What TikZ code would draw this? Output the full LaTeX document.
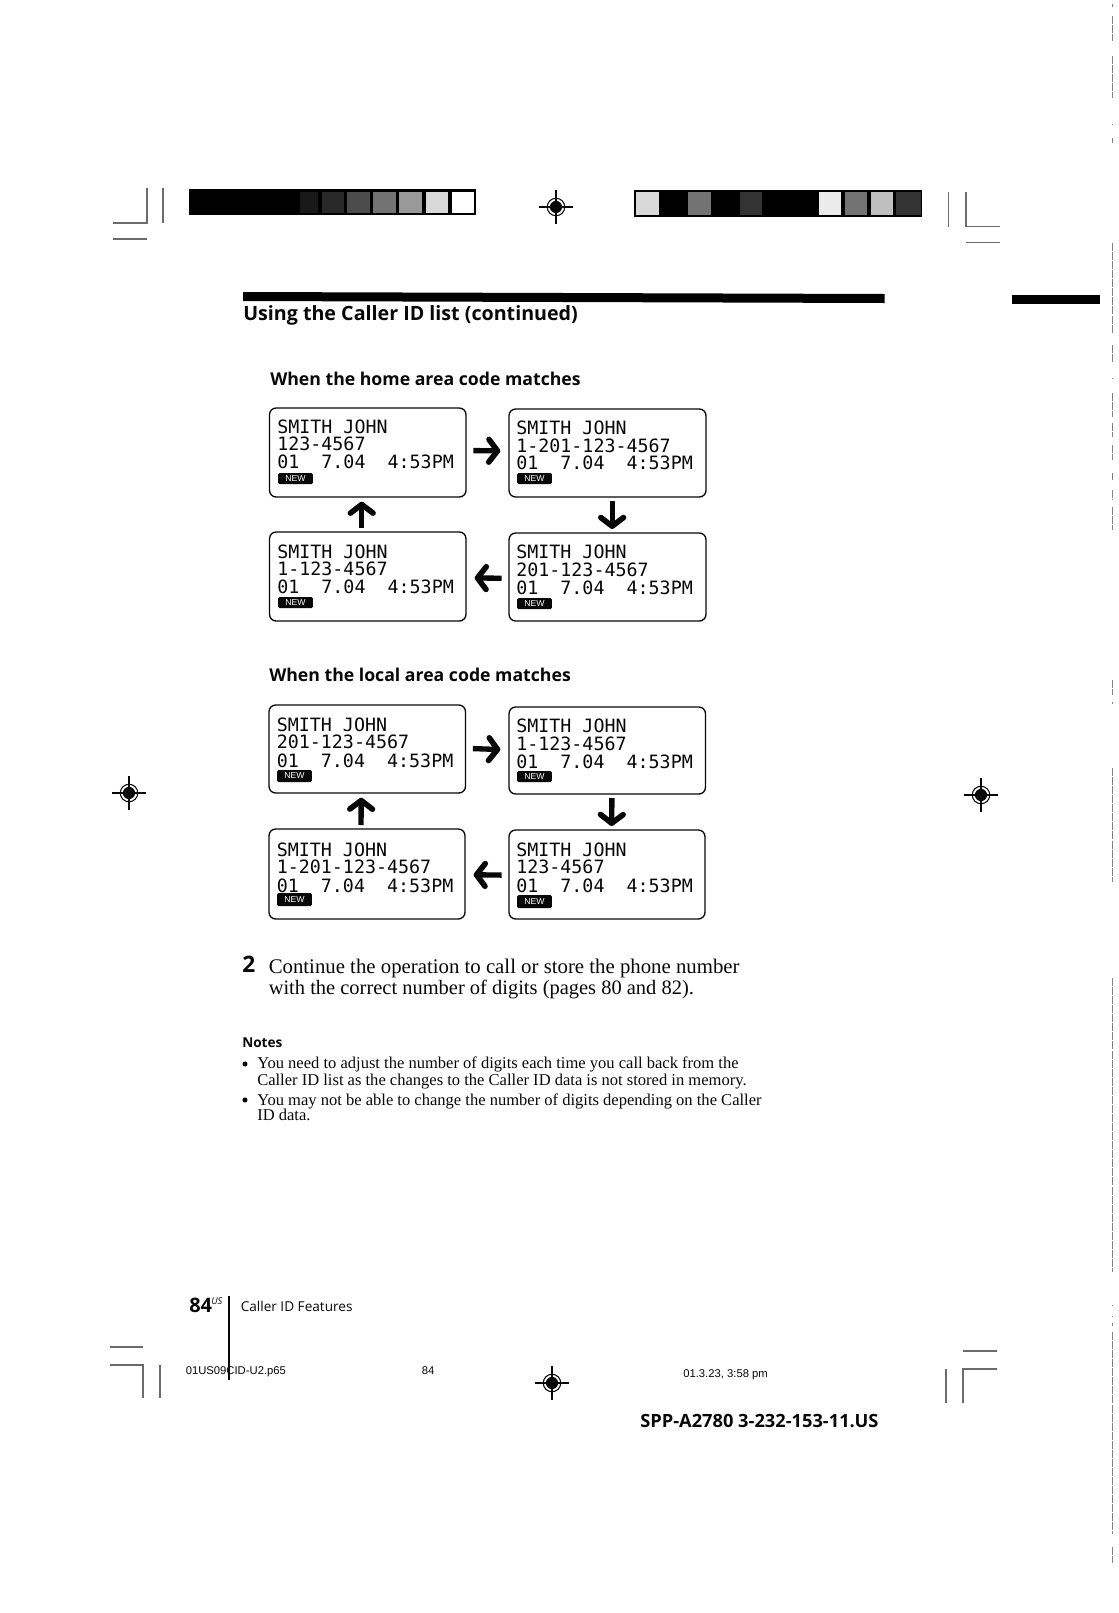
\documentclass[tikz,border=0pt]{standalone}
\usepackage{fontspec}
\setmainfont{Liberation Serif}
\newfontfamily\lcdfont{DejaVu Sans Mono}
\newfontfamily\headfont{Open Sans}
\newfontfamily\arialfont{Liberation Sans}
\usetikzlibrary{arrows.meta}
\definecolor{ink}{gray}{0.03}
\tikzset{
  screenbox/.style={draw=ink,line width=1pt,rounded corners=5pt,inner sep=0pt},
  lcdtext/.style={anchor=base west,inner sep=0pt,text=ink,font=\lcdfont\fontsize{13.75}{14}\selectfont},
  newtag/.style={fill=ink,rounded corners=1pt,inner sep=0pt,text=white,font=\arialfont\fontsize{6.5}{7}\selectfont},
  flow/.style={draw=ink,line width=4pt,-{Straight Barb[length=6.5pt,width=17pt,line width=4.2pt,round]}},
  crop/.style={draw=ink!60,line width=0.9pt},
  band/.style={fill=black,draw=none},
  patch/.style={draw=none},
  regring/.style={draw=ink,line width=0.8pt,circle,minimum size=17.5*0.75pt,inner sep=0pt},
  speck/.style={draw=ink!50,line width=0.7pt,dash pattern=on 6pt off 0.8pt},
  headA/.style={anchor=base west,inner sep=0pt,text=ink,font=\headfont\bfseries\fontsize{14.75}{16}\selectfont},
  headB/.style={anchor=base west,inner sep=0pt,text=ink,font=\headfont\bfseries\fontsize{13.25}{16}\selectfont},
  bodytext/.style={anchor=base west,inner sep=0pt,text=ink,font=\fontsize{15.6}{17}\selectfont},
  bodytextb/.style={anchor=base west,inner sep=0pt,text=ink,font=\fontsize{15.35}{17}\selectfont},
  notetext/.style={anchor=base west,inner sep=0pt,text=ink,font=\fontsize{12.4}{14}\selectfont},
  smalltext/.style={anchor=base west,inner sep=0pt,text=ink,font=\arialfont\fontsize{8.45}{10}\selectfont},
}
\newcommand{\regmark}[3]{%
  \node[regring] (#1) at (#2,#3) {};
  \fill[ink] (#1.center) circle (4.6pt);
  \draw[ink,line width=0.8pt] (#2-17,#3) -- (#2+17,#3) (#2,#3-17) -- (#2,#3+17);
}
\begin{document}
\begin{tikzpicture}[x=0.75pt,y=-0.75pt]
\useasboundingbox (0,0) rectangle (1119,1613);
\fill[white] (0,0) rectangle (1119,1613);

% colour bars
\fill[band] (189,188.5) rectangle (476,214.5);
\foreach \a/\b/\g in {300/318/10,322/344/16,347/370/30,373/396/45,399/422/60,426/448/85,452/474/100}
  \fill[patch,black!\the\numexpr100-\g\relax] (\a,191.5) rectangle (\b,212.5);
\fill[band] (634,189.5) rectangle (921.5,217);
\foreach \a/\b/\g in {636/659/85,688/711/45,740/762/20,819/841/92,845/867/45,871/893/75,896/921/20}
  \fill[patch,black!\the\numexpr100-\g\relax] (\a,192) rectangle (\b,215);

% crop marks
\draw[crop] (113,223) -- (147,223) -- (147,188);
\draw[crop] (113,239) -- (147,239);
\draw[crop] (163,188) -- (163,223);
\draw[crop] (999.5,226.5) -- (966,226.5) -- (966,192);
\draw[crop] (966,242.5) -- (999.5,242.5);
\draw[crop] (948.5,192) -- (948.5,226.5);
\draw[crop] (110,1347) -- (143,1347);
\draw[crop] (110,1365) -- (143,1365) -- (143,1398);
\draw[crop] (160,1365) -- (160,1398);
\draw[crop] (997,1351) -- (963,1351);
\draw[crop] (997,1369) -- (963,1369) -- (963,1403);
\draw[crop] (946,1369) -- (946,1403);

% registration marks
\regmark{regtop}{556}{207}
\regmark{regleft}{129}{793}
\regmark{regright}{981}{795}
\regmark{regbottom}{552}{1383}

% header rules and titles
\fill[black] (243,292) -- (884.5,294) -- (884.5,303) -- (243,301) -- cycle;
\fill[black] (1012,295) rectangle (1100,303.5);
\node[headA] (title) at (243,320) {Using the Caller ID list (continued)};
\node[headB] (homehead) at (270,385.5) {When the home area code matches};
\node[headB] (localhead) at (269,681.5) {When the local area code matches};

% screens
\foreach \n/\xa/\ya/\xb/\yb/\tx/\ba/\bb/\bc/\l/\na/\nb/\ta in {
  h1/269.5/408/466/497/277/433/450/468/123-4567/473/484/278,
  h2/509/409/706/497/516/434/452/469/1-201-123-4567/473/484/517,
  h3/269.5/532/466/621/277/558/575/593/1-123-4567/597/608/278,
  h4/509/533/706/621/516/558/576/594/201-123-4567/598/609/517,
  l1/269/705/465.5/793/276.5/731/748/767/201-123-4567/770/782/277,
  l2/509/707/705.5/794/516/732/750/768/1-123-4567/771/782/517,
  l3/269/829/465/919/276.5/856/873/892/1-201-123-4567/893/906/277,
  l4/509/830/705/919/516/856/873/892/123-4567/895/908/517}
{
  \node[screenbox,minimum width={(\xb-\xa)*0.75pt},minimum height={(\yb-\ya)*0.75pt}] (\n) at ({(\xa+\xb)/2},{(\ya+\yb)/2}) {};
  \node[lcdtext] (\n name) at (\tx,\ba) {SMITH JOHN};
  \node[lcdtext] (\n num) at (\tx,\bb) {\l};
  \node[lcdtext] (\n date) at (\tx,\bc) {01~~7.04~~4:53PM};
  \node[newtag,minimum width=26pt,minimum height={(\nb-\na)*0.75pt}] (\n new) at ({\ta+17.5},{(\na+\nb)/2}) {NEW};
}

% flow arrows
\draw[flow,shorten <=5pt,shorten >=6pt] ([yshift=1.5pt]h1.east) -- ([yshift=1.5pt]h2.west);
\draw[flow,shorten <=2.5pt,shorten >=2.5pt] ([xshift=3.5pt]h2.south) -- ([xshift=3.5pt]h4.north);
\draw[flow,shorten <=5pt,shorten >=6pt] ([yshift=-1pt]h4.west) -- ([yshift=-1pt]h3.east);
\draw[flow,shorten <=2.5pt,shorten >=3pt] ([xshift=-4.5pt]h3.north) -- ([xshift=-4.5pt]h1.south);
\draw[flow,shorten <=5pt,shorten >=6pt] ([yshift=0.5pt]l1.east) -- ([yshift=0.5pt]l2.west);
\draw[flow,shorten <=2.5pt,shorten >=2.5pt] ([xshift=3.5pt]l2.south) -- ([xshift=3.5pt]l4.north);
\draw[flow,shorten <=5pt,shorten >=6pt] ([yshift=-0.5pt]l4.west) -- ([yshift=-0.5pt]l3.east);
\draw[flow,shorten <=2.5pt,shorten >=3pt] ([xshift=-4.5pt]l3.north) -- ([xshift=-4.5pt]l1.south);

% step text
\node[anchor=base west,inner sep=0pt,text=ink,font=\headfont\bfseries\fontsize{17}{18}\selectfont] (stepnum) at (242,972) {2};
\node[bodytext] (step1) at (268.5,973) {Continue the operation to call or store the phone number};
\node[bodytextb] (step2) at (268.5,994.5) {with the correct number of digits (pages 80 and 82).};

% notes
\node[anchor=base west,inner sep=0pt,text=ink,font=\headfont\bfseries\fontsize{10.2}{13}\selectfont] (noteshead) at (242,1047.5) {Notes};
\fill[ink] (245,1064) circle (1.9pt);
\fill[ink] (245,1100) circle (1.9pt);
\node[notetext] (n1a) at (257,1068) {You need to adjust the number of digits each time you call back from the};
\node[notetext] (n1b) at (257,1085) {Caller ID list as the changes to the Caller ID data is not stored in memory.};
\node[notetext] (n2a) at (257,1105) {You may not be able to change the number of digits depending on the Caller};
\node[notetext] (n2b) at (257,1120) {ID data.};

% footer
\draw[ink,line width=1.2pt] (229,1296) -- (229,1380);
\node[anchor=base west,inner sep=0pt,text=ink,font=\headfont\bfseries\fontsize{15}{17}\selectfont] (pagenum) at (189,1312) {84};
\node[anchor=base west,inner sep=0pt,text=ink,font=\headfont\itshape\fontsize{7}{8}\selectfont] (pagesup) at (211,1304) {US};
\node[anchor=base west,inner sep=0pt,text=ink,font=\headfont\fontsize{10.2}{13}\selectfont] (section) at (240.5,1311) {Caller ID Features};
\node[smalltext] (filename) at (185.5,1374) {01US09CID-U2.p65};
\node[smalltext] (filepage) at (421.5,1374) {84};
\node[smalltext] (filedate) at (683,1377) {01.3.23, 3:58 pm};
\node[anchor=base west,inner sep=0pt,text=ink,font=\headfont\bfseries\fontsize{13.7}{15}\selectfont] (partno) at (640,1427) {SPP-A2780 3-232-153-11.US};

% scanned margin line
\foreach \a/\b in {4/7,16/41,56/98,124/125,138/143,243/333,345/362,378/379,393/417,423/437,445/460,473/480,490/500,507/530,680/695,702/704,768/882,978/1272,1305/1306,1316/1317,1323/1326,1332/1534,1547/1563}
  \draw[speck] (1112,\a) -- (1112,\b);
\end{tikzpicture}
\end{document}
